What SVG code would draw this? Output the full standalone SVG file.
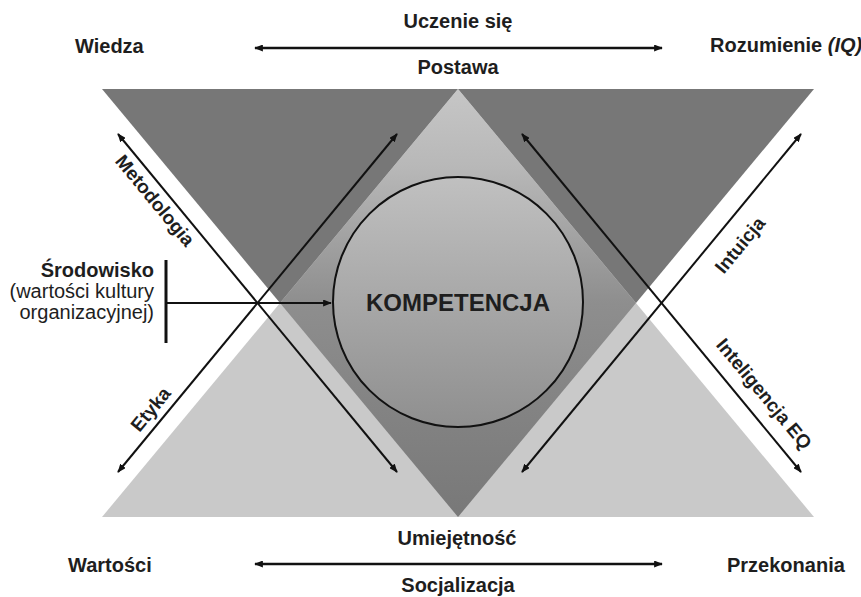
<svg xmlns="http://www.w3.org/2000/svg" width="861" height="597" viewBox="0 0 861 597">
<style>
.lbl{font-family:"Liberation Sans",Arial,sans-serif;font-weight:bold;font-size:20px;fill:#1e1e1e}
.reg{font-weight:normal}
.diag{font-family:"Liberation Sans",Arial,sans-serif;font-weight:bold;font-size:19px;fill:#1e1e1e;text-anchor:middle}
.ln{stroke:#111;stroke-width:2;fill:none}
.hz{stroke:#111;stroke-width:2.4;fill:none}
</style>
<defs>
<marker id="ah" viewBox="0 0 10 8" refX="9" refY="4" markerWidth="9" markerHeight="7" markerUnits="userSpaceOnUse" orient="auto-start-reverse">
<path d="M0,0 L10,4 L0,8 z" fill="#111"/>
</marker>
<linearGradient id="gDia" x1="0" y1="89" x2="0" y2="517" gradientUnits="userSpaceOnUse">
<stop offset="0" stop-color="#c6c6c6"/>
<stop offset="0.18" stop-color="#b8b8b8"/>
<stop offset="0.5" stop-color="#8e8e8e"/>
<stop offset="1" stop-color="#787878"/>
</linearGradient>
<linearGradient id="gCir" x1="0" y1="177" x2="0" y2="427" gradientUnits="userSpaceOnUse">
<stop offset="0" stop-color="#c0c0c0"/>
<stop offset="1" stop-color="#8f8f8f"/>
</linearGradient>
</defs>

<g id="shapes">
<polygon id="dark-triangle" points="102,89 814,89 458,517" fill="#777777"/>
<polygon id="light-triangle" points="458,89 814,517 102,517" fill="#c9c9c9"/>
<polygon id="diamond" points="458,89 636,303 458,517 280,303" fill="url(#gDia)"/>
</g>

<g id="connectors">
<line class="hz" x1="255" y1="48" x2="662" y2="48" marker-start="url(#ah)" marker-end="url(#ah)"/>
<line class="hz" x1="255" y1="564" x2="662" y2="564" marker-start="url(#ah)" marker-end="url(#ah)"/>
<line class="ln" x1="118" y1="134" x2="397" y2="472" marker-start="url(#ah)" marker-end="url(#ah)"/>
<line class="ln" x1="118" y1="472" x2="397" y2="134" marker-start="url(#ah)" marker-end="url(#ah)"/>
<line class="ln" x1="522" y1="472" x2="801" y2="134" marker-start="url(#ah)" marker-end="url(#ah)"/>
<line class="ln" x1="522" y1="134" x2="801" y2="472" marker-start="url(#ah)" marker-end="url(#ah)"/>
<line class="ln" x1="166" y1="303" x2="331" y2="303" stroke-width="1.8" marker-end="url(#ah)"/>
</g>

<g id="kompetencja">
<circle cx="458" cy="302" r="125" fill="url(#gCir)" stroke="#111" stroke-width="2"/>
<text class="lbl" x="458" y="311" font-size="24" text-anchor="middle" style="font-size:24px">KOMPETENCJA</text>
</g>

<g id="srodowisko">
<line x1="166" y1="260" x2="166" y2="343" stroke="#111" stroke-width="3"/>
<text class="lbl" x="154" y="277" text-anchor="end">Środowisko</text>
<text class="lbl reg" x="154" y="297.5" text-anchor="end">(wartości kultury</text>
<text class="lbl reg" x="154" y="318.5" text-anchor="end">organizacyjnej)</text>
</g>

<g id="wiedza"><text class="lbl" x="75" y="53">Wiedza</text></g>
<g id="rozumienie"><text class="lbl" x="710" y="52">Rozumienie <tspan font-style="italic">(IQ)</tspan></text></g>
<g id="wartosci"><text class="lbl" x="68" y="572">Wartości</text></g>
<g id="przekonania"><text class="lbl" x="727" y="572">Przekonania</text></g>

<g id="uczenie"><text class="lbl" x="458" y="28" text-anchor="middle">Uczenie się</text></g>
<g id="postawa"><text class="lbl" x="458" y="74" text-anchor="middle">Postawa</text></g>
<g id="umiejetnosc"><text class="lbl" x="457" y="545" text-anchor="middle">Umiejętność</text></g>
<g id="socjalizacja"><text class="lbl" x="458" y="592" text-anchor="middle">Socjalizacja</text></g>

<g id="metodologia"><text class="diag" transform="translate(155,200.5) rotate(50.4)" y="6.5">Metodologia</text></g>
<g id="etyka"><text class="diag" transform="translate(150.7,409.3) rotate(-50.5)" y="6.5">Etyka</text></g>
<g id="intuicja"><text class="diag" transform="translate(740,245) rotate(-50.4)" y="6.5">Intuicja</text></g>
<g id="inteligencja"><text class="diag" transform="translate(764,394) rotate(50.3)" y="6.5">Inteligencja EQ</text></g>
</svg>
